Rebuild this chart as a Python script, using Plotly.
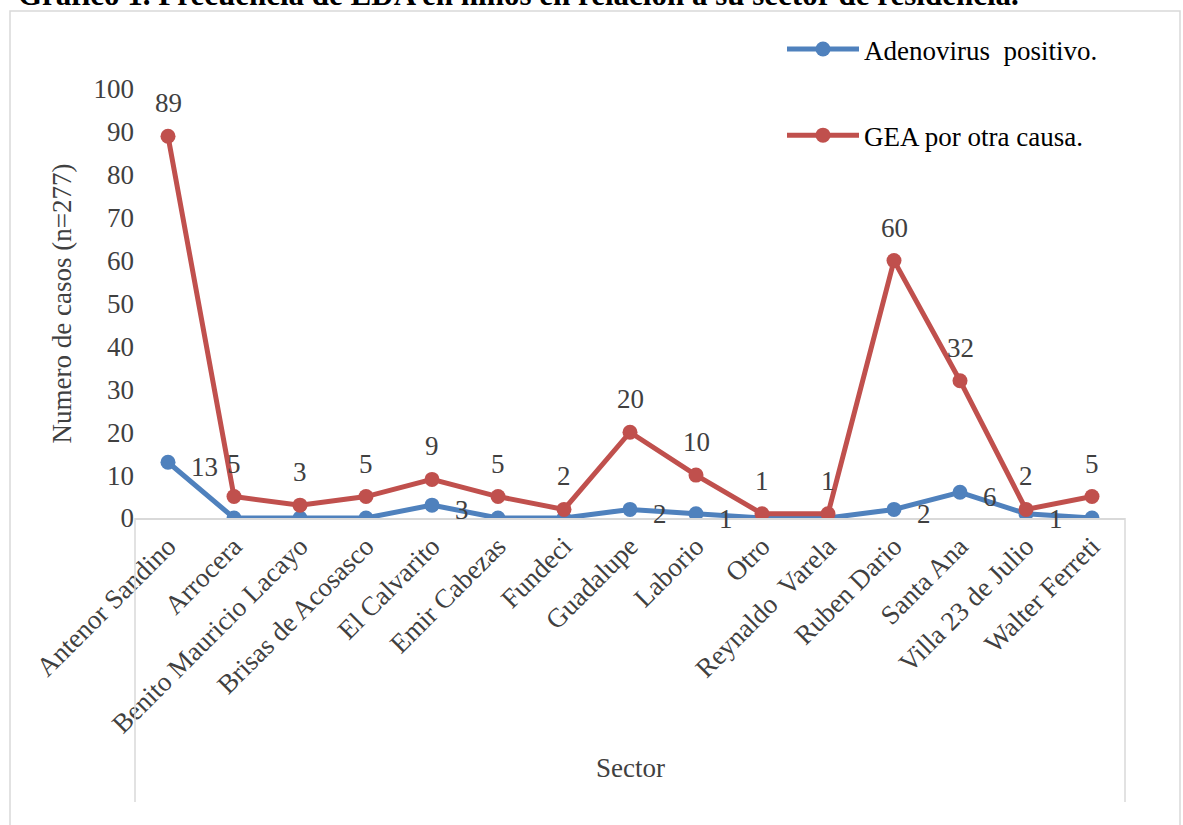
import plotly.graph_objects as go

sectores = ["Antenor Sandino", "Arrocera", "Benito Mauricio Lacayo", "Brisas de Acosasco",
            "El Calvarito", "Emir Cabezas", "Fundeci", "Guadalupe", "Laborio", "Otro",
            "Reynaldo  Varela", "Ruben Dario", "Santa Ana", "Villa 23 de Julio", "Walter Ferreti"]
adenovirus = [13, 0, 0, 0, 3, 0, 0, 2, 1, 0, 0, 2, 6, 1, 0]
gea = [89, 5, 3, 5, 9, 5, 2, 20, 10, 1, 1, 60, 32, 2, 5]

titulo = "Gráfico 1. Frecuencia de EDA en niños en relación a su sector de residencia."
FONT = "Liberation Serif"
FS = 27
BLUE = "#4F81BD"
RED = "#C0504D"
TXT = "#404040"

fig = go.Figure()
fig.add_trace(go.Scatter(x=sectores, y=adenovirus, name="Adenovirus  positivo.",
                         mode="lines+markers", legendgroup="a",
                         line=dict(color=BLUE, width=5),
                         marker=dict(color=BLUE, size=15)))
fig.add_trace(go.Scatter(x=sectores, y=gea, name="GEA por otra causa.",
                         mode="lines+markers", legendgroup="b",
                         line=dict(color=RED, width=5),
                         marker=dict(color=RED, size=15)))

# data labels
for s, v in zip(sectores, gea):
    fig.add_annotation(x=s, y=v, text=str(v), showarrow=False, yshift=33,
                       font=dict(family=FONT, size=FS, color=TXT))
for s, v in zip(sectores, adenovirus):
    if v > 0:
        fig.add_annotation(x=s, y=v, text=str(v), showarrow=False, xanchor="left",
                           xshift=21, yshift=-5,
                           font=dict(family=FONT, size=FS, color=TXT))

# axis title "Sector"
fig.add_annotation(x=0.5, y=(518 - 785) / 429, xref="paper", yref="paper", text="Sector",
                   showarrow=False, font=dict(family=FONT, size=FS, color=TXT))
# clipped title at top
fig.add_annotation(x=(16 - 135) / 990, y=(518 - 14) / 429, xref="paper", yref="paper",
                   xanchor="left", yanchor="bottom", text="<b>" + titulo + "</b>",
                   showarrow=False, font=dict(family=FONT, size=31, color="#000000"))

# outer chart border
fig.add_shape(type="rect", xref="paper", yref="paper",
              x0=(10 - 135) / 990, x1=(1180 - 135) / 990,
              y0=(518 - 840) / 429, y1=(518 - 11) / 429,
              line=dict(color="#D9D9D9", width=1.5), layer="below")
# category axis side lines
for xp in (0, 1):
    fig.add_shape(type="line", xref="paper", yref="paper", x0=xp, x1=xp,
                  y0=0, y1=(518 - 802) / 429, line=dict(color="#D9D9D9", width=1.5))

fig.update_layout(
    width=1183, height=825,
    margin=dict(l=135, r=58, t=89, b=307, autoexpand=False),
    paper_bgcolor="white", plot_bgcolor="white",
    font=dict(family=FONT, size=FS, color=TXT),
    showlegend=True,
    legend=dict(xref="container", yref="container", x=782 / 1183, y=1 - 25 / 825,
                xanchor="left", yanchor="top", traceorder="grouped", tracegroupgap=48,
                itemwidth=72, font=dict(family=FONT, size=FS, color="#000000"),
                bgcolor="rgba(0,0,0,0)"),
    xaxis=dict(range=[-0.5, 14.5], showgrid=False, showline=True, linecolor="#D9D9D9",
               linewidth=1.5, ticks="", tickangle=-45,
               tickfont=dict(family=FONT, size=FS, color=TXT)),
    yaxis=dict(range=[0, 100], dtick=10, showgrid=False, zeroline=False, showline=False,
               ticks="", tickfont=dict(family=FONT, size=FS, color=TXT),
               title=dict(text="Numero de casos (n=277)", standoff=14,
                          font=dict(family=FONT, size=FS, color=TXT))),
)

fig.write_html("out.html")
